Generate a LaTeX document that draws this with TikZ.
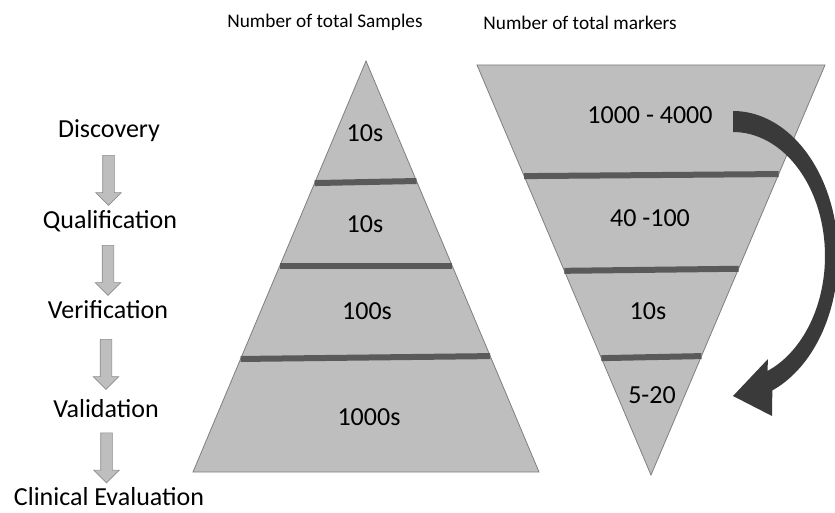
\documentclass[tikz,border=0pt]{standalone}
\usepackage{fontspec}
\setmainfont{Carlito}
\usetikzlibrary{calc,shapes.arrows}
\definecolor{pyrfill}{HTML}{BEBEBE}
\definecolor{pyredge}{HTML}{7F7F7F}
\definecolor{bandline}{HTML}{5A5A5A}
\definecolor{bigarrow}{HTML}{3A3A3A}
\definecolor{stepedge}{HTML}{8C8C8C}
\begin{document}
\begin{tikzpicture}[x=1pt,y=-1pt,
    stage/.style={font=\fontsize{26}{30}\selectfont, anchor=base},
    count/.style={font=\fontsize{26}{30}\selectfont, anchor=base},
    heading/.style={font=\fontsize{19.3}{23}\selectfont, anchor=base},
    tri/.style={fill=pyrfill, draw=pyredge, line width=0.8pt},
    band/.style={draw=bandline, line width=6pt},
    down/.style={single arrow, draw=stepedge, fill=pyrfill, line width=0.6pt,
        rotate=-90, minimum height=50pt, inner sep=5.5pt,
        single arrow head extend=7pt}]
    \useasboundingbox (0,0) rectangle (835,513);
    \clip (0,0) rectangle (835,513);

    % headings
    \node[heading] (hsamp) at (325,28) {Number of total Samples};
    \node[heading] (hmark) at (580,30) {Number of total markers};

    % stages on the left
    \node[stage] (disc)  at (109,138) {Discovery};
    \node[stage] (qual)  at (110,229) {Qualification};
    \node[stage] (verif) at (108,318) {Verification};
    \node[stage] (valid) at (106,417) {Validation};
    \node[stage] (clin)  at (109,505) {Clinical Evaluation};

    \foreach \from / \to in {disc/qual, qual/verif, verif/valid, valid/clin}
        \node[down] at ($(\from.base)!0.5!(\to.base)+(-1,-6)$) {};

    % samples pyramid
    \coordinate (sA) at (366,61);
    \coordinate (sL) at (193,472);
    \coordinate (sR) at (539,472);
    \draw[tri] (sA) -- (sR) -- (sL) -- cycle;
    \foreach \l / \r in {0.297/0.292, 0.499/0.499, 0.725/0.718}
        \draw[band] ($(sA)!\l!(sL)$) -- ($(sA)!\r!(sR)$);

    % markers funnel
    \coordinate (mL) at (477,65);
    \coordinate (mR) at (825,65);
    \coordinate (mB) at (651,475);
    \draw[tri] (mL) -- (mR) -- (mB) -- cycle;
    \foreach \l / \r in {0.271/0.266, 0.502/0.497, 0.715/0.710}
        \draw[band] ($(mL)!\l!(mB)$) -- ($(mR)!\r!(mB)$);

    \node[count] (s1) at (365,142) {10s};
    \node[count] (s2) at (365,233) {10s};
    \node[count] (s3) at (367,319) {100s};
    \node[count] (s4) at (369,425) {1000s};

    \node[count] (m1) at (650,124) {1000 - 4000};
    \node[count] (m2) at (650,226) {40 -100};
    \node[count] (m3) at (648,319) {10s};
    \node[count] (m4) at (652,403) {5-20};

    % curved arrow from top band to bottom band
    \fill[bigarrow]
        plot[smooth, domain=-90:68, samples=40] ({733+105*cos(\x)},{256+145*sin(\x)})
        -- (772,416) -- (733,396) -- (768,359)
        -- plot[smooth, domain=68:-90, samples=40] ({733+92*cos(\x)},{256+124*sin(\x)})
        -- cycle;
\end{tikzpicture}
\end{document}
